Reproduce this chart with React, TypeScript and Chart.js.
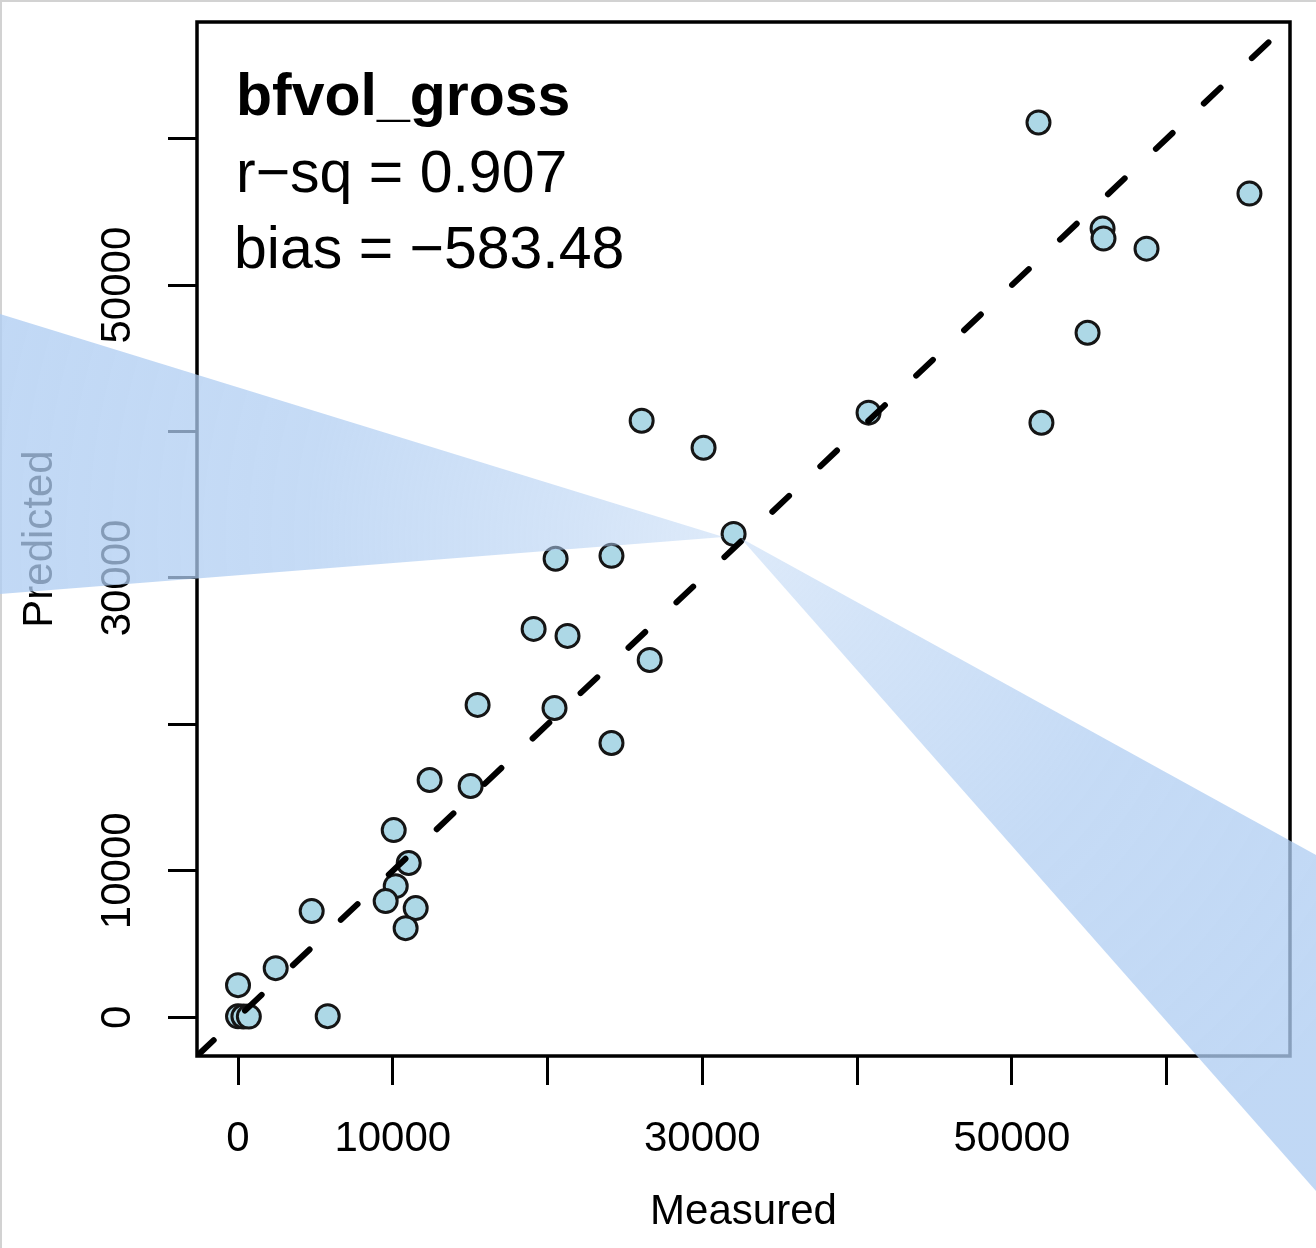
import React, { useEffect, useRef } from 'react';
import { Chart, registerables } from 'chart.js';

Chart.register(...registerables);

// ---- data ----
const measured = [
  0, 350, 700, 0, 2435, 4760, 5795,
  10060, 11030, 10190, 9540, 11480, 10830,
  12380, 15030, 15480,
  19100, 20450, 20520, 21290,
  24130, 24130, 26080, 26600,
  30080, 32020, 40740,
  51720, 51910, 54890,
  55860, 55920, 58700, 65350,
];
const predicted = [
  60, 50, 40, 2190, 3350, 7245, 70,
  12780, 10530, 8950, 7930, 7450, 6080,
  16200, 15790, 21330,
  26520, 21120, 31310, 26040,
  31510, 18730, 40740, 24400,
  38890, 33010, 41290,
  61110, 40600, 46750,
  53860, 53180, 52490, 56250,
];
const axisMin = -2650;
const axisMax = 67970;
const tickValues = [0, 10000, 20000, 30000, 40000, 50000, 60000];
const xTickLabels = ['0', '10000', '', '30000', '', '50000', ''];
const yTickLabels = ['0', '10000', '', '30000', '', '50000', ''];
const oneToOne = [axisMin, 70000];
const statLines = ['bfvol_gross', 'r\u2212sq = 0.907', 'bias = \u2212583.48'];
const xTitle = 'Measured';
const yTitle = 'Predicted';
const beamPointIndex = 25;

const FONT = '"Liberation Sans", Arial, sans-serif';

const extrasPlugin = {
  id: 'extras',
  beforeDatasetsDraw(chart: any) {
    const { ctx, chartArea } = chart;
    ctx.save();
    ctx.strokeStyle = '#000';
    ctx.lineWidth = 3.5;
    ctx.strokeRect(chartArea.left, chartArea.top, chartArea.right - chartArea.left, chartArea.bottom - chartArea.top);
    ctx.restore();
  },
  afterDraw(chart: any) {
    const { ctx, chartArea, width, height } = chart;
    ctx.save();
    // stats text
    ctx.fillStyle = '#000';
    ctx.textAlign = 'left';
    ctx.textBaseline = 'alphabetic';
    ctx.font = `bold 59px ${FONT}`;
    ctx.fillText(statLines[0], chartArea.left + 39, chartArea.top + 93);
    ctx.font = `59px ${FONT}`;
    ctx.fillText(statLines[1], chartArea.left + 39, chartArea.top + 170);
    ctx.fillText(statLines[2], chartArea.left + 37, chartArea.top + 246);

    // faint frame of the picture
    ctx.fillStyle = '#d2d2d2';
    ctx.fillRect(0, 0, width, 2);
    ctx.fillRect(0, 0, 2, height);

    // translucent beam overlay
    const xs = chart.scales.x;
    const ys = chart.scales.y;
    const px = xs.getPixelForValue(measured[beamPointIndex]);
    const py = ys.getPixelForValue(predicted[beamPointIndex]);
    const beam = (ax: number, ay: number, pts: number[][]) => {
      const g = ctx.createRadialGradient(ax, ay, 0, ax, ay, 760);
      g.addColorStop(0, 'rgba(175,205,242,0.42)');
      g.addColorStop(0.2, 'rgba(175,205,242,0.55)');
      g.addColorStop(0.55, 'rgba(175,205,242,0.72)');
      g.addColorStop(1, 'rgba(175,205,242,0.78)');
      ctx.fillStyle = g;
      ctx.beginPath();
      ctx.moveTo(ax, ay);
      pts.forEach(([x, y]) => ctx.lineTo(x, y));
      ctx.closePath();
      ctx.fill();
    };
    beam(px - 10, py + 3, [[0, py - 220], [0, py + 60]]);
    beam(px + 7, py + 4, [[width, py + 321], [width, py + 657]]);
    ctx.restore();
  },
};

export default function App() {
  const ref = useRef<HTMLCanvasElement | null>(null);
  useEffect(() => {
    if (!ref.current) return;
    const tickCfg = (labels: string[], rotated: boolean) => ({
      autoSkip: false,
      includeBounds: false,
      color: '#000',
      font: { family: FONT, size: 42 },
      minRotation: rotated ? 90 : 0,
      maxRotation: rotated ? 90 : 0,
      crossAlign: rotated ? 'center' : 'near',
      padding: rotated ? -9 : 29,
      callback: (v: number) => {
        const i = tickValues.indexOf(v);
        return i >= 0 ? labels[i] : '';
      },
    });
    const gridCfg = {
      drawOnChartArea: false,
      drawTicks: true,
      tickLength: 29,
      tickWidth: 3,
      tickColor: '#000',
    };
    const setTicks = (scale: any) => {
      scale.ticks = tickValues.map((v) => ({ value: v }));
    };
    const chart = new Chart(ref.current, {
      type: 'scatter',
      data: {
        datasets: [
          {
            type: 'line',
            data: oneToOne.map((v) => ({ x: v, y: v })),
            borderColor: '#000',
            borderWidth: 6,
            borderDash: [23, 43],
            borderCapStyle: 'round',
            pointRadius: 0,
            fill: false,
            order: 0,
          } as any,
          {
            type: 'scatter',
            data: measured.map((m, i) => ({ x: m, y: predicted[i] })),
            backgroundColor: '#add8e6',
            borderColor: '#151515',
            borderWidth: 3,
            pointRadius: 11.5,
            pointHoverRadius: 11.5,
            order: 1,
          },
        ],
      },
      options: {
        animation: false,
        responsive: true,
        maintainAspectRatio: false,
        layout: { padding: { left: 0, top: 22, right: 26, bottom: 0 } },
        plugins: { legend: { display: false }, tooltip: { enabled: false } },
        events: [],
        scales: {
          x: {
            type: 'linear',
            position: 'bottom',
            min: axisMin,
            max: axisMax,
            afterBuildTicks: setTicks,
            afterFit: (s: any) => { s.height = 192; },
            border: { display: false },
            grid: gridCfg,
            ticks: tickCfg(xTickLabels, false),
            title: {
              display: true,
              text: xTitle,
              color: '#000',
              font: { family: FONT, size: 42 },
              padding: { top: 0, bottom: 10 },
            },
          },
          y: {
            type: 'linear',
            position: 'left',
            min: axisMin,
            max: axisMax,
            afterBuildTicks: setTicks,
            afterFit: (s: any) => { s.width = 197; },
            border: { display: false },
            grid: gridCfg,
            ticks: tickCfg(yTickLabels, true),
            title: {
              display: true,
              text: yTitle,
              color: '#000',
              font: { family: FONT, size: 42 },
              padding: { top: 15, bottom: 0 },
            },
          },
        },
      } as any,
      plugins: [extrasPlugin],
    });
    return () => chart.destroy();
  }, []);
  return (
    <div style={{ position: 'absolute', left: 0, top: 0, width: 1316, height: 1248, background: '#fff' }}>
      <canvas ref={ref} />
    </div>
  );
}
